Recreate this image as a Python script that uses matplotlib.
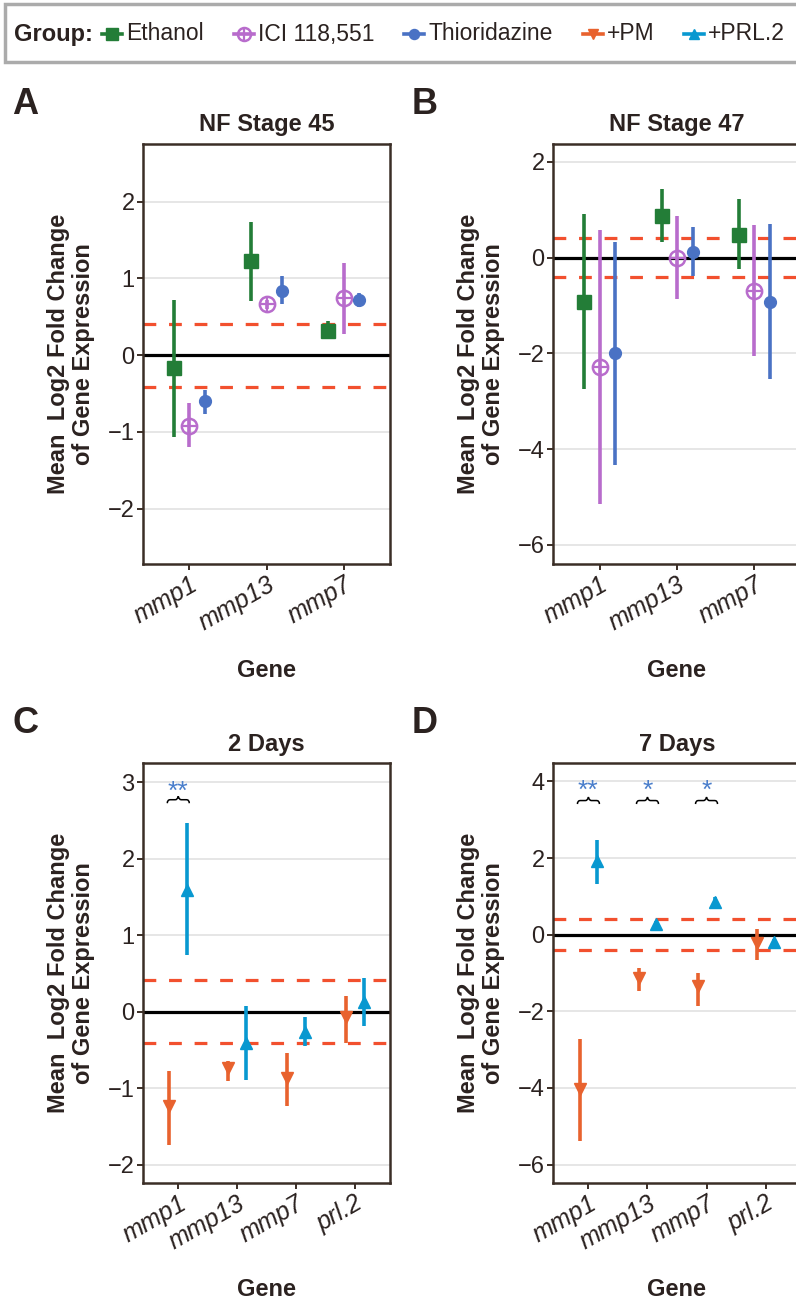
import numpy as np
import matplotlib
matplotlib.use("Agg")
import matplotlib.pyplot as plt
import matplotlib.transforms as mtransforms
from matplotlib.lines import Line2D
from matplotlib.patches import Rectangle, PathPatch
from matplotlib.path import Path

plt.rcParams['font.family'] = ['Liberation Sans', 'DejaVu Sans']

# ---------------- data ----------------
genes3 = ['mmp1', 'mmp13', 'mmp7']
genes4 = ['mmp1', 'mmp13', 'mmp7', 'prl.2']

group_names = ['Ethanol', 'ICI 118,551', 'Thioridazine', '+PM', '+PRL.2']

# Panel A: NF Stage 45
a_eth_mean = [-0.17, 1.22, 0.32]
a_eth_lo = [-1.07, 0.71, 0.22]
a_eth_hi = [0.72, 1.73, 0.44]
a_ici_mean = [-0.92, 0.66, 0.74]
a_ici_lo = [-1.19, 0.60, 0.28]
a_ici_hi = [-0.62, 0.72, 1.20]
a_thi_mean = [-0.60, 0.84, 0.72]
a_thi_lo = [-0.76, 0.66, 0.63]
a_thi_hi = [-0.45, 1.03, 0.81]

# Panel B: NF Stage 47
b_eth_mean = [-0.93, 0.875, 0.47]
b_eth_lo = [-2.74, 0.33, -0.25]
b_eth_hi = [0.90, 1.44, 1.22]
b_ici_mean = [-2.28, 0.0, -0.69]
b_ici_lo = [-5.15, -0.87, -2.06]
b_ici_hi = [0.58, 0.87, 0.67]
b_thi_mean = [-1.99, 0.11, -0.93]
b_thi_lo = [-4.34, -0.38, -2.53]
b_thi_hi = [0.33, 0.63, 0.69]

# Panel C: 2 Days
c_pm_mean = [-1.24, -0.74, -0.87, -0.07]
c_pm_lo = [-1.74, -0.91, -1.24, -0.41]
c_pm_hi = [-0.78, -0.64, -0.54, 0.20]
c_prl_mean = [1.59, -0.41, -0.26, 0.12]
c_prl_lo = [0.74, -0.90, -0.45, -0.19]
c_prl_hi = [2.46, 0.07, -0.07, 0.44]

# Panel D: 7 Days
d_pm_mean = [-4.03, -1.12, -1.35, -0.23]
d_pm_lo = [-5.39, -1.47, -1.86, -0.67]
d_pm_hi = [-2.73, -0.87, -0.99, 0.16]
d_prl_mean = [1.92, 0.27, 0.85, -0.19]
d_prl_lo = [1.33, 0.16, 0.72, -0.30]
d_prl_hi = [2.46, 0.37, 0.98, -0.10]

# significance annotations
c_sig_genes = ['mmp1']
c_sig_labels = ['**']
c_sig_star_y = 3.0
c_sig_brace_y = 2.77
d_sig_genes = ['mmp1', 'mmp13', 'mmp7']
d_sig_labels = ['**', '*', '*']
d_sig_star_y = 4.0
d_sig_brace_y = 3.5

threshold = 0.41

# ---------------- style ----------------
COL = {'Ethanol': '#237d37', 'ICI 118,551': '#b86ccc', 'Thioridazine': '#4a72c4',
       '+PM': '#e8622e', '+PRL.2': '#0898d0'}
MK = {'Ethanol': ('s', 9.5), 'Thioridazine': ('o', 8.5), '+PM': ('v', 8.5), '+PRL.2': ('^', 8.5)}
RED = '#f2502e'
STAR = '#4a7ecb'
TXT = '#2b2220'
SPINE = '#3b2e26'

W, H = 796, 1304
fig = plt.figure(figsize=(W / 100, H / 100), dpi=100)
fig.patch.set_facecolor('white')


def rect(x0, y0, x1, y1):
    return [x0 / W, 1 - y1 / H, (x1 - x0) / W, (y1 - y0) / H]


def marker_lines(x, y, name, scale=1.0, **common):
    c = COL[name]
    if name == 'ICI 118,551':
        return [Line2D(x, y, marker='o', ms=11 * scale, mfc='none', mew=1.8, color=c, **common),
                Line2D(x, y, marker='+', ms=11 * scale, mew=1.6, color=c, **common)]
    mk, ms = MK[name]
    return [Line2D(x, y, marker=mk, ms=ms * scale, color=c, mec=c, **common)]


# over-brace shape in pixels (half width 11 px, height 7 px)
_bv = np.array([(-11, -3.5), (-11, 0), (-8, 0), (-3, 0), (-0.6, 0), (0, 3.5),
                (0.6, 0), (3, 0), (8, 0), (11, 0), (11, -3.5)]) / 100.0
_bc = [Path.MOVETO, Path.CURVE3, Path.CURVE3, Path.LINETO, Path.CURVE3, Path.CURVE3,
       Path.CURVE3, Path.CURVE3, Path.LINETO, Path.CURVE3, Path.CURVE3]
BRACE = Path(_bv, _bc)


def panel(ax, genes, series, ylim, yticks, title, sig=None):
    n = len(series)
    x = np.arange(1, len(genes) + 1)
    offs = (np.arange(n) - (n - 1) / 2) * (0.6 / n)
    ax.set_xlim(0.4, len(genes) + 0.6)
    ax.set_ylim(*ylim)
    ax.set_yticks(yticks)
    ax.set_xticks(x)
    ax.set_xticklabels(genes, rotation=30, ha='right', rotation_mode='anchor',
                       fontstyle='italic', fontsize=18, color=TXT)
    ax.tick_params(axis='y', labelsize=17, labelcolor=TXT)
    ax.tick_params(length=4, width=1.4, color=SPINE, pad=2)
    ax.yaxis.grid(True, color='#e6e6e6', lw=1.4)
    ax.set_axisbelow(True)
    for s in ax.spines.values():
        s.set_color(SPINE)
        s.set_linewidth(1.8)
    ax.axhline(0, color='black', lw=2.3, zorder=2)
    for t in (threshold, -threshold):
        ax.axhline(t, color=RED, lw=2.3, ls=(0, (4, 4)), zorder=2)
    for (name, mean, lo, hi), o in zip(series, offs):
        ax.vlines(x + o, lo, hi, color=COL[name], lw=2.6, zorder=3)
        for ln in marker_lines(x + o, np.array(mean), name, linestyle='none', zorder=5):
            ax.add_line(ln)
    ax.set_title(title, fontsize=17, fontweight='bold', color=TXT, pad=9)
    if sig is not None:
        sgenes, slabels, sy, by = sig
        for g, lab in zip(sgenes, slabels):
            gx = genes.index(g) + 1
            ax.annotate(lab, (gx, sy), xytext=(0, -12), textcoords='offset points',
                        ha='center', va='baseline', color=STAR, fontsize=19)
            tr = fig.dpi_scale_trans + mtransforms.ScaledTranslation(gx, by, ax.transData)
            ax.add_patch(PathPatch(BRACE, transform=tr, facecolor='none',
                                   edgecolor='black', lw=1.1, zorder=6))


axA = fig.add_axes(rect(143, 144, 390, 564))
axB = fig.add_axes(rect(553, 144, 801, 564))
axC = fig.add_axes(rect(143, 763, 390, 1183))
axD = fig.add_axes(rect(553, 763, 801, 1183))

panel(axA, genes3,
      [('Ethanol', a_eth_mean, a_eth_lo, a_eth_hi),
       ('ICI 118,551', a_ici_mean, a_ici_lo, a_ici_hi),
       ('Thioridazine', a_thi_mean, a_thi_lo, a_thi_hi)],
      (-2.72, 2.75), [-2, -1, 0, 1, 2], 'NF Stage 45')
panel(axB, genes3,
      [('Ethanol', b_eth_mean, b_eth_lo, b_eth_hi),
       ('ICI 118,551', b_ici_mean, b_ici_lo, b_ici_hi),
       ('Thioridazine', b_thi_mean, b_thi_lo, b_thi_hi)],
      (-6.40, 2.37), [-6, -4, -2, 0, 2], 'NF Stage 47')
panel(axC, genes4,
      [('+PM', c_pm_mean, c_pm_lo, c_pm_hi),
       ('+PRL.2', c_prl_mean, c_prl_lo, c_prl_hi)],
      (-2.24, 3.25), [-2, -1, 0, 1, 2, 3], '2 Days',
      sig=(c_sig_genes, c_sig_labels, c_sig_star_y, c_sig_brace_y))
panel(axD, genes4,
      [('+PM', d_pm_mean, d_pm_lo, d_pm_hi),
       ('+PRL.2', d_prl_mean, d_prl_lo, d_prl_hi)],
      (-6.48, 4.48), [-6, -4, -2, 0, 2, 4], '7 Days',
      sig=(d_sig_genes, d_sig_labels, d_sig_star_y, d_sig_brace_y))

ylab = 'Mean  Log2 Fold Change\nof Gene Expression'
for (ax, letter, lx, ylx) in ((axA, 'A', 12, 71), (axB, 'B', 412, 481),
                              (axC, 'C', 12, 71), (axD, 'D', 412, 481)):
    pos = ax.get_position()
    top_px = (1 - pos.y1) * H
    bot_px = (1 - pos.y0) * H
    cx_px = (pos.x0 + pos.width / 2) * W
    cy_px = (top_px + bot_px) / 2
    fig.text(lx / W, 1 - (top_px - 30) / H, letter, fontsize=26, fontweight='bold',
             color=TXT, ha='left', va='baseline')
    fig.text(ylx / W, 1 - cy_px / H, ylab, rotation=90, ha='center', va='center',
             multialignment='center', fontsize=17, fontweight='bold', color=TXT,
             linespacing=1.15)
    fig.text(cx_px / W, 1 - (bot_px + 107) / H, 'Gene', ha='center', va='center',
             fontsize=17, fontweight='bold', color=TXT)

# ---------------- legend ----------------
fig.add_artist(Rectangle((5 / W, 1 - 62 / H), 805 / W, 58 / H, transform=fig.transFigure,
                         facecolor='white', edgecolor='#ababab', lw=2.5, zorder=0))
fig.canvas.draw()
renderer = fig.canvas.get_renderer()
ly = 34
fig.text(14 / W, 1 - ly / H, 'Group:', fontsize=17, fontweight='bold', color=TXT,
         ha='left', va='center')
kc = 112
for name in group_names:
    fig.add_artist(Line2D([(kc - 10) / W, (kc + 10) / W], [1 - ly / H, 1 - ly / H],
                          transform=fig.transFigure, color=COL[name], lw=2.6))
    for ln in marker_lines([kc / W], [1 - ly / H], name, scale=0.85,
                           transform=fig.transFigure, linestyle='none'):
        fig.add_artist(ln)
    tt = fig.text((kc + 14) / W, 1 - ly / H, name, fontsize=16.5, color=TXT,
                  ha='left', va='center')
    kc = tt.get_window_extent(renderer).x1 + 40

fig.savefig('out.png', dpi=100)
